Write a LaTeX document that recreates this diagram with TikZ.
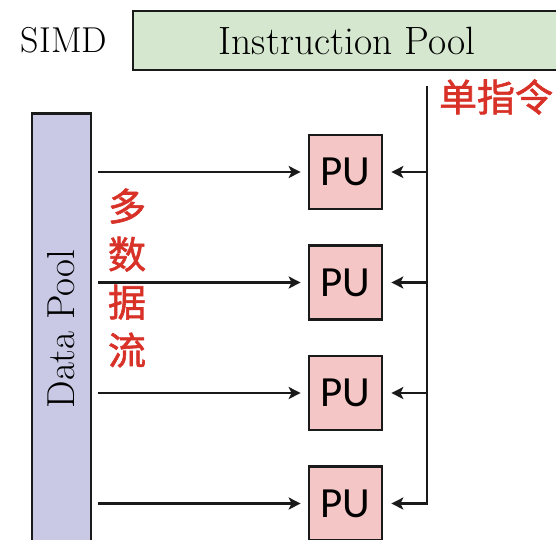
\documentclass[tikz,border=0pt]{standalone}
\usepackage{fontspec}
\usetikzlibrary{arrows.meta}
\newfontfamily\cjkfont[FakeBold=1.6]{Noto Sans CJK SC}
\newfontfamily\pufont{Carlito}
\definecolor{instrgreen}{HTML}{D5E8CF}
\definecolor{datablue}{HTML}{C9C9E6}
\definecolor{pupink}{HTML}{F5C6C6}
\definecolor{labelred}{HTML}{D83228}
\definecolor{linegray}{HTML}{1A1A1A}
\begin{document}
\begin{tikzpicture}[x=1pt,y=-1pt,
  box/.style={draw=linegray, line width=2.7pt, inner sep=0pt},
  pubox/.style={box, fill=pupink, minimum width=73pt, minimum height=74pt,
    font=\pufont\fontsize{43}{43}\selectfont},
  flow/.style={draw=linegray, line width=2.7pt, -{Stealth[length=12pt,width=12pt,inset=3pt]}},
  redlabel/.style={text=labelred, font=\cjkfont\fontsize{38}{48}\selectfont}]
\useasboundingbox (0,0) rectangle (556,539);
\node[box, fill=instrgreen, minimum width=428pt, minimum height=59pt,
  font=\fontsize{39.5}{44}\selectfont] (instr) at (347,40.5) {Instruction Pool};
\node[font=\fontsize{36}{40}\selectfont] (simd) at (64,40) {SIMD};
\node[box, fill=datablue, rotate=90, minimum width=431pt, minimum height=59pt,
  font=\fontsize{39}{44}\selectfont] (data) at (61.5,329) {Data Pool};
\node[pubox] (pu1) at (345.5,172) {PU};
\node[pubox] (pu2) at (345.5,282.5) {PU};
\node[pubox] (pu3) at (345.5,393) {PU};
\node[pubox] (pu4) at (345.5,503.5) {PU};
\node[redlabel, align=center] (multi) at (127,278) {多\\数\\据\\流};
\node[redlabel] (single) at (496,97) {单指令};
\coordinate (trunktop) at (427,86);
\foreach \p in {pu1,pu2,pu3,pu4}{
  \draw[flow, shorten <=6pt, shorten >=7pt] (data.south |- \p) -- (\p);
}
\draw[flow, shorten >=8pt] (trunktop) |- (pu4);
\foreach \p in {pu1,pu2,pu3}{
  \draw[flow, shorten >=8pt] (trunktop |- \p) -- (\p);
}
\end{tikzpicture}
\end{document}
